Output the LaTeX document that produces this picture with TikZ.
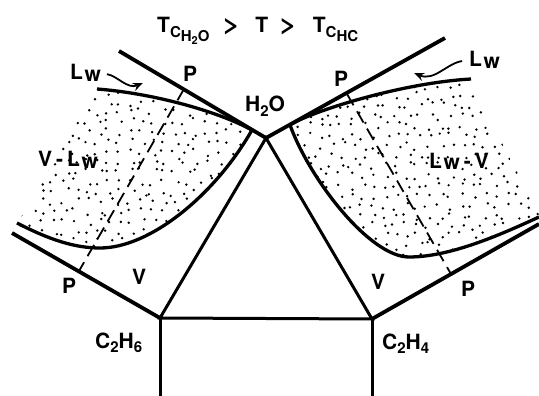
\documentclass[tikz,border=0pt]{standalone}
\usepackage{fontspec}
\setmainfont{TeX Gyre Heros}
\usetikzlibrary{arrows.meta}

\newcommand\lsub[1]{\raisebox{-4.5pt}{\fontsize{15}{15}\selectfont #1}}
\newcommand\ssub[1]{\raisebox{-2.5pt}{\fontsize{11}{11}\selectfont #1}}
\newcommand\wsub{\kern1.5pt\raisebox{-1.5pt}{w}}
\newcommand\gtr{\scalebox{1.45}[1.1]{>}}

\begin{document}
\begin{tikzpicture}[x=1pt,y=-1pt]

\tikzset{phase/.style = {line width=3.8pt}}
\tikzset{tie/.style = {line width=3pt}}
\tikzset{bound/.style = {line width=3.3pt}}
\tikzset{pline/.style = {line width=1.8pt, dash pattern=on 13pt off 7pt}}
\tikzset{lab/.style = {anchor=base west, inner sep=0pt, font=\fontsize{21}{24}\selectfont\bfseries}}
\tikzset{hint/.style = {line width=1.8pt, -{Stealth[length=10pt,width=8pt]}}}

\useasboundingbox (0,0) rectangle (539,396);

% vertices
\coordinate (wat) at (266,138);
\coordinate (eth) at (160,318);
\coordinate (ene) at (372,319);
\coordinate (wl) at (119,51);
\coordinate (el) at (12,233);
\coordinate (wr) at (445,38);
\coordinate (er) at (539,224);
\coordinate (tipl) at (252,130);
\coordinate (tipr) at (290,125);

% stipple
\pgfmathsetseed{11}
\begin{scope}
\clip (97,89) .. controls (150,93) and (215,110) .. (tipl)
  .. controls (215,195) and (150,248) .. (100,248)
  .. controls (75,248) and (50,240) .. (17,223)
  .. controls (40,190) and (75,120) .. (97,89) -- cycle;
\foreach \gx in {10,21,...,258}
  \foreach \gy in {82,92,...,256}
    \fill ({\gx+4.5*rand},{\gy+4*rand}) circle[radius=1.35pt];
\end{scope}
\begin{scope}
\clip (tipr) .. controls (310,112) and (400,83) .. (471,79)
  .. controls (490,120) and (515,170) .. (539,212) -- (539,217)
  .. controls (500,235) and (450,257) .. (409,257)
  .. controls (370,257) and (310,180) .. (tipr) -- cycle;
\foreach \gx in {286,297,...,540}
  \foreach \gy in {76,86,...,260}
    \fill ({\gx+4.5*rand},{\gy+4*rand}) circle[radius=1.35pt];
\end{scope}

% boundaries
\draw[bound] (97,89) .. controls (150,93) and (215,110) .. (tipl);
\draw[bound] (17,223) .. controls (50,240) and (75,248) .. (100,248)
  .. controls (150,248) and (215,195) .. (tipl);
\draw[bound] (tipr) .. controls (310,112) and (400,83) .. (471,79);
\draw[bound] (tipr) .. controls (310,180) and (370,257) .. (409,257)
  .. controls (450,257) and (500,235) .. (539,217);

% edges
\draw[phase] (wl) -- (wat) -- (wr);
\draw[phase] (el) -- (eth);
\draw[phase] (er) -- (ene);
\draw[tie] (eth) -- (wat) -- (ene) -- cycle;
\draw[tie] (eth) -- (160,398);
\draw[tie] (ene) -- (372,398);

% P lines
\coordinate (pl1) at (184,89);
\coordinate (pl2) at (79,271);
\coordinate (pr1) at (347,94);
\coordinate (pr2) at (451,274);
\draw[pline] (pl1) -- (pl2);
\draw[pline] (pr1) -- (pr2);

% labels
\node[lab] (title) at (157,33) {T\lsub{C\lsub{H\ssub{2}O}}\hspace{13pt}\gtr\hspace{15pt}T\hspace{11pt}\gtr\hspace{16pt}T\lsub{C\lsub{HC}}};
\node[lab] (lwl) at (70,80) {L\wsub};
\node[lab] (lwr) at (469,67) {L\wsub};
\node[lab] (ptl) at (183,82) {P};
\node[lab] (ptr) at (334,87) {P};
\node[lab] (pbl) at (62,293) {P};
\node[lab] (pbr) at (461,296) {P};
\node[lab] (h2o) at (245,112) {H\lsub{2}O};
\node[lab] (vlw) at (38,167) {V\hspace{4pt}-\hspace{4pt}L\wsub};
\node[lab] (lwv) at (429,168) {L\wsub\hspace{4pt}-\hspace{4pt}V};
\node[lab] (vl) at (132,284) {V};
\node[lab] (vr) at (371,289) {V};
\node[lab] (c2h6) at (95,348) {C\lsub{2}H\lsub{6}};
\node[lab] (c2h4) at (382,349) {C\lsub{2}H\lsub{4}};

% arrows
\coordinate (al) at (143,83);
\coordinate (ar) at (414,73);
\draw[hint, shorten <=6pt] (lwl.east) to[out=-10,in=-157] (al);
\draw[hint, shorten <=7pt] (lwr.west) to[out=188,in=-23] (ar);

\end{tikzpicture}
\end{document}
